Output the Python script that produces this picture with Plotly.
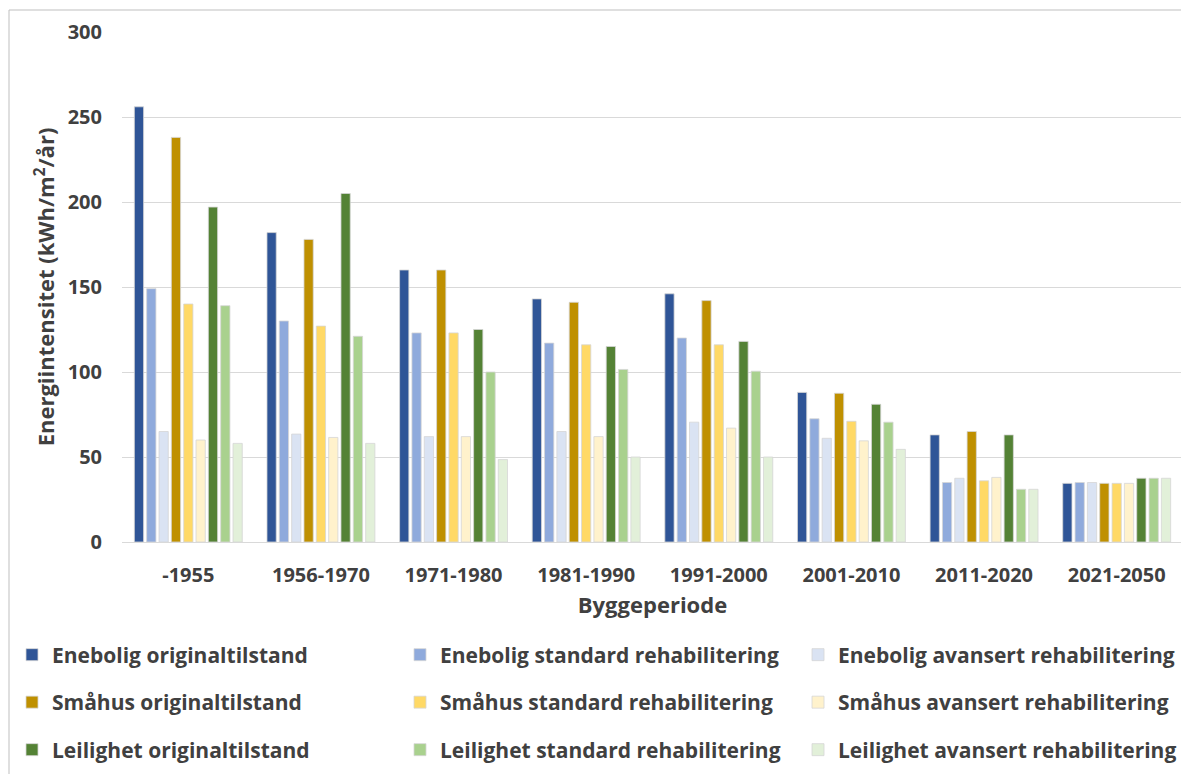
import plotly.graph_objects as go

categories = ["-1955", "1956-1970", "1971-1980", "1981-1990", "1991-2000",
              "2001-2010", "2011-2020", "2021-2050"]

enebolig_original = [256, 182, 160, 143, 146, 88, 63, 34.5]
enebolig_standard = [149, 130, 123, 117, 120, 72.5, 35, 35]
enebolig_avansert = [65, 63.5, 62, 65, 70.5, 61, 37.5, 35]
smahus_original = [238, 178, 160, 141, 142, 87.5, 65, 34.5]
smahus_standard = [140, 127, 123, 116, 116, 71, 36, 34.5]
smahus_avansert = [60, 61.5, 62, 62, 67, 59.5, 38, 34.5]
leilighet_original = [197, 205, 125, 115, 118, 81, 63, 37.5]
leilighet_standard = [139, 121, 100, 101.5, 100.5, 70.5, 31, 37.5]
leilighet_avansert = [58, 58, 48.5, 50, 50, 54.5, 31, 37.5]

series_names = [
    "Enebolig originaltilstand", "Enebolig standard rehabilitering", "Enebolig avansert rehabilitering",
    "Småhus originaltilstand", "Småhus standard rehabilitering", "Småhus avansert rehabilitering",
    "Leilighet originaltilstand", "Leilighet standard rehabilitering", "Leilighet avansert rehabilitering",
]
series_values = [
    enebolig_original, enebolig_standard, enebolig_avansert,
    smahus_original, smahus_standard, smahus_avansert,
    leilighet_original, leilighet_standard, leilighet_avansert,
]
series_colors = [
    "#2F5597", "#8FAADC", "#DAE3F3",
    "#BF9000", "#FFD966", "#FFF2CC",
    "#548235", "#A9D18E", "#E2F0D9",
]

FONT = "Open Sans"
TXT = "#404040"

# page has an 8px body margin; figure coordinates = page coordinates - 8
OFF = 8
W, H = 1181, 766
L, T = 122 - OFF, 32 - OFF
PLOT_R, PLOT_B = 1183 - OFF, 542 - OFF
R, B = W - PLOT_R, H - PLOT_B
pw = PLOT_R - L
ph = PLOT_B - T


def px_x(page_x):
    return (page_x - OFF - L) / pw


def px_y(page_y):
    return (PLOT_B - (page_y - OFF)) / ph


legend_ids = [f"legend{k}" for k in range(2, 11)]
col_left = [12, 400, 798]
row_y = [655, 702.5, 750]

fig = go.Figure()
for i, (name, vals, col) in enumerate(zip(series_names, series_values, series_colors)):
    fig.add_trace(go.Bar(
        x=categories, y=vals, name=name,
        marker=dict(color=col, line=dict(color="#D6D6D6", width=0.8)),
        legend=legend_ids[i], showlegend=True,
    ))

legend_layouts = {}
for i, lid in enumerate(legend_ids):
    r, c = divmod(i, 3)
    legend_layouts[lid] = dict(
        x=px_x(col_left[c]), y=px_y(row_y[r]),
        xanchor="left", yanchor="middle", orientation="v",
        font=dict(family=FONT, size=21, color=TXT, weight="bold"),
        bgcolor="rgba(0,0,0,0)", itemclick=False, itemdoubleclick=False,
    )

fig.update_layout(
    width=W, height=H,
    margin=dict(l=L, r=R, t=T, b=B, autoexpand=False),
    paper_bgcolor="white", plot_bgcolor="white",
    showlegend=True,
    barmode="group", bargap=0.163, bargroupgap=0.25,
    font=dict(family=FONT, color=TXT),
    xaxis=dict(
        showgrid=False, showline=True, linecolor="#D9D9D9", linewidth=1,
        ticks="", ticklabelstandoff=15,
        tickfont=dict(family=FONT, size=20, color=TXT, weight="bold"),
        title=dict(text="Byggeperiode", standoff=10,
                   font=dict(family=FONT, size=22, color=TXT, weight="bold")),
    ),
    yaxis=dict(
        range=[0, 300], dtick=50, showgrid=True, gridcolor="#D9D9D9", gridwidth=1,
        zeroline=False, showline=False, ticks="", ticklabelstandoff=19,
        tickfont=dict(family=FONT, size=20, color=TXT, weight="bold"),
        title=dict(text="Energiintensitet (kWh/m<sup>2</sup>/år)", standoff=6,
                   font=dict(family=FONT, size=22, color=TXT, weight="bold")),
    ),
    shapes=[dict(type="rect", xref="paper", yref="paper",
                 x0=px_x(9), x1=px_x(1210), y0=px_y(800), y1=px_y(10),
                 line=dict(color="#BFBFBF", width=1), fillcolor="rgba(0,0,0,0)",
                 layer="below")],
    **legend_layouts,
)

fig.write_html("out.html")
